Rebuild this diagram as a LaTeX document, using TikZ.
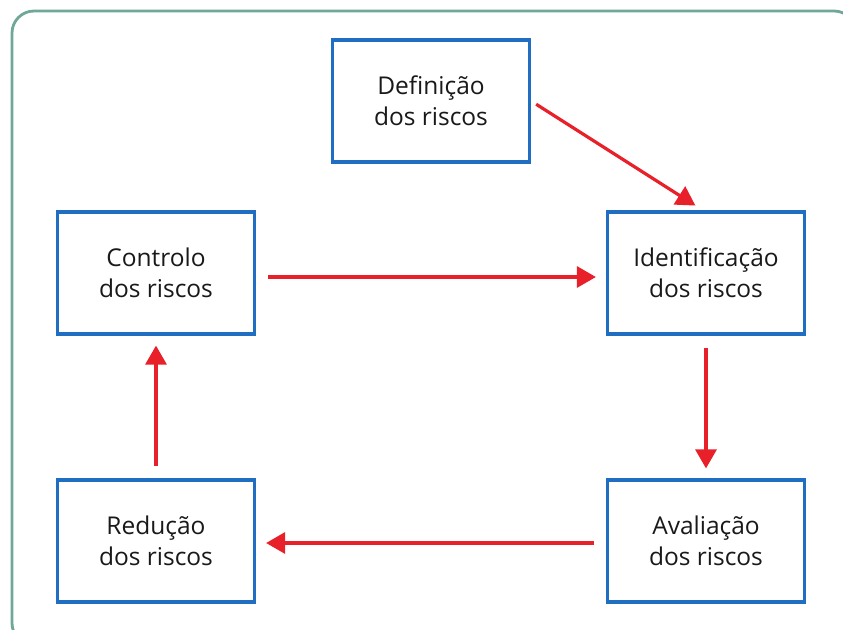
\documentclass[tikz,border=0pt]{standalone}
\usepackage{fontspec}
\setmainfont{Open Sans}
\usetikzlibrary{arrows.meta}
\definecolor{framegreen}{HTML}{6FA898}
\definecolor{boxblue}{HTML}{1F6EC2}
\definecolor{arrred}{HTML}{E8202A}
\tikzset{
  stepbox/.style={draw=boxblue, line width=3.2pt, minimum width=197pt, minimum height=122pt, align=center, inner sep=0pt, font=\fontsize{24.5}{31}\selectfont, text=black!90},
  flow/.style={draw=arrred, line width=3.2pt, -{Triangle[width=21pt,length=19pt]}, shorten <=12pt, shorten >=10pt}
}
\begin{document}
\begin{tikzpicture}[x=1pt,y=-1pt]
\useasboundingbox (0,0) rectangle (843,629);
\begin{scope}
\clip (0,0) rectangle (843,629);
\draw[framegreen, line width=2.8pt, rounded corners=22pt] (12,11) rectangle (856,645);
\end{scope}
\node[stepbox] (def) at (431,101) {Definição\\dos riscos};
\node[stepbox] (con) at (156,273) {Controlo\\dos riscos};
\node[stepbox] (ide) at (706,273) {Identificação\\dos riscos};
\node[stepbox] (red) at (156,541) {Redução\\dos riscos};
\node[stepbox] (ava) at (706,541) {Avaliação\\dos riscos};
\draw[flow, shorten <=6pt, shorten >=9pt] (def.east) -- ([xshift=-3pt]ide.north);
\draw[flow] (con.east |- 0,277) -- (ide.west |- 0,277);
\draw[flow] (ide.south) -- (ava.north);
\draw[flow] (ava.west |- 0,543) -- (red.east |- 0,543);
\draw[flow] (red.north) -- (con.south);
\end{tikzpicture}
\end{document}
